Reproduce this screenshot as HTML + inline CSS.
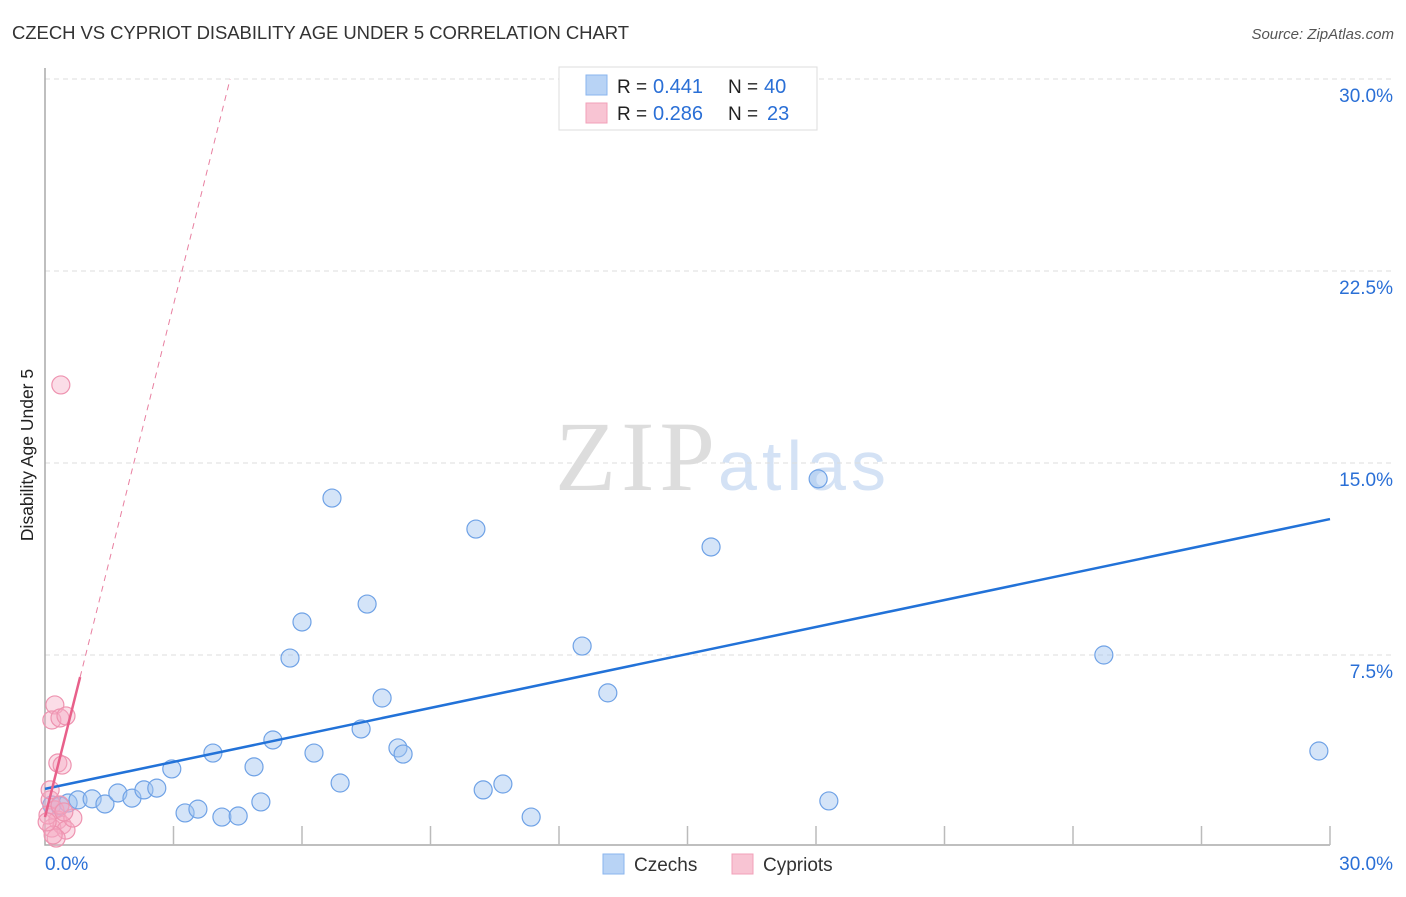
<!DOCTYPE html>
<html><head><meta charset="utf-8"><style>
body{margin:0;background:#fff;font-family:"Liberation Sans",sans-serif}
svg text{font-family:"Liberation Sans",sans-serif}
</style></head><body>
<svg id="c" width="1406" height="892">
<text x="12" y="39" font-size="18.5" fill="#333" textLength="617">CZECH VS CYPRIOT DISABILITY AGE UNDER 5 CORRELATION CHART</text>
<text x="1394" y="39" font-size="15" fill="#555" font-style="italic" text-anchor="end">Source: ZipAtlas.com</text>
<text transform="translate(33,455) rotate(-90)" font-size="17.5" fill="#222" text-anchor="middle">Disability Age Under 5</text>
<text x="555" y="490" font-size="100" fill="#ddd" textLength="160" style="font-family:'Liberation Serif',serif">ZIP</text>
<text x="718" y="490" font-size="70" fill="#d4e2f5" textLength="168">atlas</text>
<g id="grid"></g><g id="axes"></g><g id="pts"></g><g id="lines"></g>
<g>
<rect x="559" y="67" width="258" height="63" fill="#fff" stroke="#ddd"/>
<rect x="586" y="75" width="21" height="20" fill="#b8d3f5" stroke="#8ab4ee"/>
<rect x="586" y="103" width="21" height="20" fill="#f8c4d3" stroke="#f2a0b8"/>
<text x="617" y="93" font-size="19" fill="#222">R =</text>
<text x="653" y="93" font-size="20" fill="#2a6fd6">0.441</text>
<text x="728" y="93" font-size="19" fill="#222">N =</text>
<text x="764" y="93" font-size="20" fill="#2a6fd6">40</text>
<text x="617" y="120" font-size="19" fill="#222">R =</text>
<text x="653" y="120" font-size="20" fill="#2a6fd6">0.286</text>
<text x="728" y="120" font-size="19" fill="#222">N =</text>
<text x="767" y="120" font-size="20" fill="#2a6fd6">23</text>
</g>
<g>
<rect x="603" y="854" width="21" height="20" fill="#b8d3f5" stroke="#8ab4ee"/>
<text x="634" y="871" font-size="19" fill="#333">Czechs</text>
<rect x="732" y="854" width="21" height="20" fill="#f8c4d3" stroke="#f2a0b8"/>
<text x="763" y="871" font-size="19" fill="#333">Cypriots</text>
</g>
</svg>
<script>
const yTicks=[7.5,15,22.5,30];
const yTickLabels=["7.5%","15.0%","22.5%","30.0%"];
const xTickVals=[3,6,9,12,15,18,21,24,27,30];
const czX=[0.16,0.35,0.54,0.77,1.10,1.40,1.70,2.03,2.31,2.61,2.96,3.27,3.57,3.92,4.13,4.51,4.88,5.04,5.32,5.72,6.00,6.28,6.70,6.89,7.38,7.52,7.87,8.24,8.36,10.06,10.23,10.69,11.35,12.54,13.14,15.55,16.83,18.05,18.30,24.72,29.74];
const czY=[1.64,1.60,1.72,1.84,1.88,1.68,2.11,1.91,2.23,2.30,3.05,1.33,1.48,3.67,1.17,1.21,3.13,1.76,4.18,7.38,8.79,3.67,13.63,2.50,4.61,9.49,5.82,3.87,3.63,12.42,2.23,2.46,1.17,7.85,6.02,11.72,28.55,14.38,1.80,7.50,3.75];
const cyX=[0.37,0.23,0.16,0.35,0.49,0.30,0.40,0.12,0.23,0.30,0.16,0.40,0.07,0.49,0.65,0.26,0.12,0.35,0.19,0.44,0.05];
const cyY=[18.05,5.55,4.96,5.04,5.12,3.28,3.20,1.84,1.45,1.05,0.74,0.86,1.25,0.66,1.13,0.35,2.23,1.64,0.47,1.37,0.98];
const czLine=[2.27,12.81];
const cyInt=1.17, cySlope=6.67;
const X=v=>45+v/30*1285, Y=v=>847-v/7.5*192;
const NS="http://www.w3.org/2000/svg";
function mk(p,t,a){const e=document.createElementNS(NS,t);for(const k in a)e.setAttribute(k,a[k]);document.getElementById(p).appendChild(e);return e;}
yTicks.forEach((t,i)=>{
 const g=mk('grid','line',{x1:45,x2:1392,y1:Y(t),y2:Y(t),stroke:'#ddd','stroke-dasharray':'5,4'});
 
 
 const l=mk('grid','text',{x:1393,y:Y(t)+23,'font-size':19,fill:'#2a6fd6','text-anchor':'end'});
 l.textContent=yTickLabels[i];
 
 
});
const ax=mk('axes','path',{d:'M45,68V845H1330',stroke:'#aaa',fill:'none','stroke-width':1.5});


xTickVals.forEach(v=>{const t=mk('axes','line',{x1:X(v),x2:X(v),y1:826,y2:845,stroke:'#bbb','stroke-width':1.5});
 
 });
const x0=mk('axes','text',{x:45,y:870,'font-size':19,fill:'#2a6fd6'});x0.textContent='0.0%';


const x1=mk('axes','text',{x:1393,y:870,'font-size':19,fill:'#2a6fd6','text-anchor':'end'});x1.textContent='30.0%';


czX.forEach((v,i)=>{const c=mk('pts','circle',{cx:X(v),cy:Y(czY[i]),r:9,fill:'rgba(160,196,240,0.45)',stroke:'#6fa2e6','stroke-width':1.2});
 
 });
cyX.forEach((v,i)=>{const c=mk('pts','circle',{cx:X(v),cy:Y(cyY[i]),r:9,fill:'rgba(245,170,195,0.4)',stroke:'#ee93b0','stroke-width':1.2});
 
 });
const bl=mk('lines','line',{x1:X(0),y1:Y(czLine[0]),x2:X(30),y2:Y(czLine[1]),stroke:'#2272d8','stroke-width':2.5});


const xe=(30-cyInt)/cySlope;
const pd=mk('lines','line',{x1:X(0.82),y1:Y(cyInt+cySlope*0.82),x2:X(xe),y2:Y(30),stroke:'#e87fa0','stroke-width':1,'stroke-dasharray':'6,5'});


const ps=mk('lines','line',{x1:X(0),y1:Y(cyInt),x2:X(0.82),y2:Y(cyInt+cySlope*0.82),stroke:'#e8608a','stroke-width':2.5});


</script>
</body></html>
